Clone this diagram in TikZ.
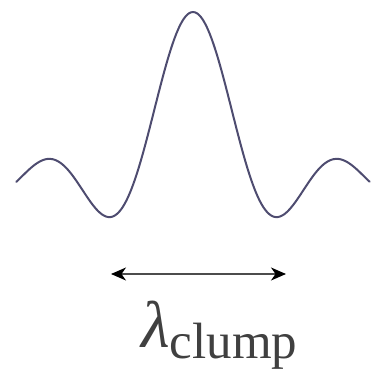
\documentclass[tikz,border=0pt]{standalone}
\usepackage{fontspec}
\setmainfont{Liberation Serif}
\usetikzlibrary{arrows.meta}
\definecolor{curvecol}{RGB}{78,76,112}
\definecolor{textcol}{RGB}{64,64,64}
\tikzset{
  curve/.style={draw=curvecol, line width=2pt, line join=round, line cap=round},
  widtharrow/.style={draw=black!70, line width=1.3pt, {Stealth[length=15pt,width=13pt,inset=4.5pt,color=black]}-{Stealth[length=15pt,width=13pt,inset=4.5pt,color=black]}},
  lbl/.style={inner sep=0pt, text=textcol, anchor=base west}
}
\begin{document}
\begin{tikzpicture}[x=1pt,y=-1pt]
\useasboundingbox (0,0) rectangle (373,380);
\draw[curve] plot[domain=-9.5:9.5, samples=240, smooth] ({193+18.6*\x},{180.5-168.5*sin(\x r)/\x});
\coordinate (aL) at (111,274);
\coordinate (aR) at (286,274);
\draw[widtharrow] (aL) -- (aR);
\node[lbl] (lam) at (141,347) {{\fontsize{66}{70}\selectfont\itshape λ}\raisebox{-11pt}{\fontsize{51}{55}\selectfont clump}};
\end{tikzpicture}
\end{document}
